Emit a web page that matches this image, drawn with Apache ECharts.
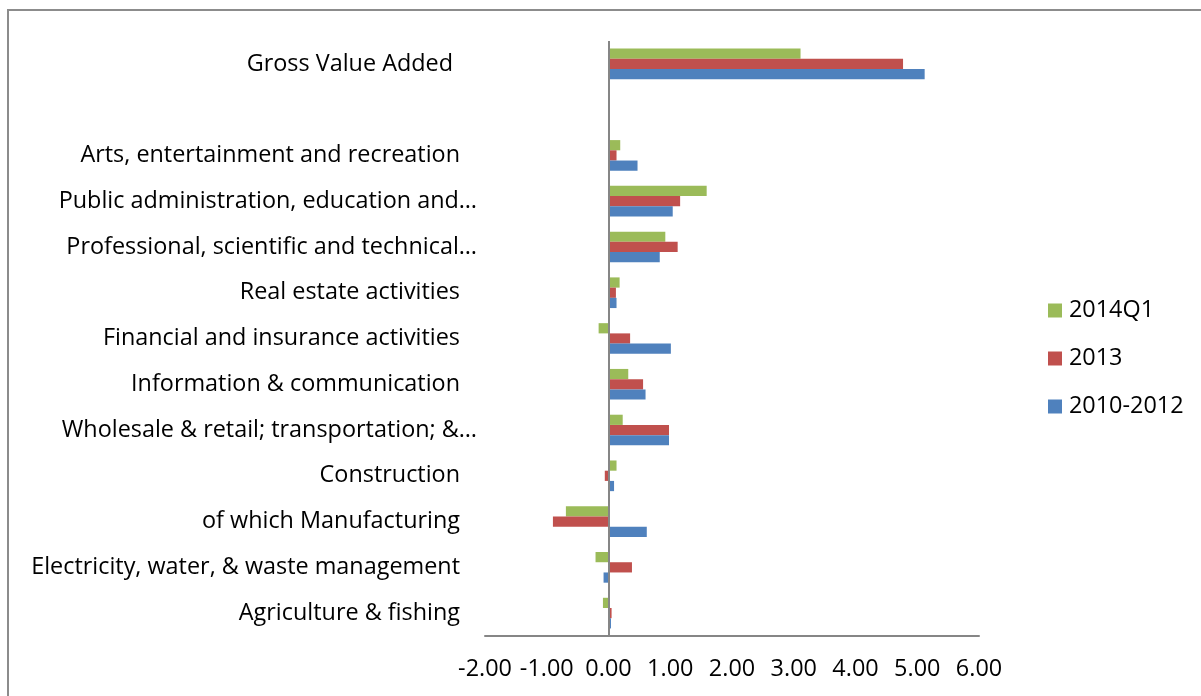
<!DOCTYPE html>
<html>
<head>
<meta charset="utf-8">
<script src="https://cdn.jsdelivr.net/npm/echarts@6/dist/echarts.min.js"></script>
<style>
  html, body { margin: 0; padding: 0; background: #fff; }
  #chart { width: 1201px; height: 696px; }
</style>
</head>
<body>
<div id="chart"></div>
<script>
// Sector categories, bottom to top (blank slot separates the total)
const categories = [
  'Agriculture & fishing',
  'Electricity, water, & waste management',
  'of which Manufacturing',
  'Construction',
  'Wholesale & retail; transportation; &…',
  'Information & communication',
  'Financial and insurance activities',
  'Real estate activities',
  'Professional, scientific and technical…',
  'Public administration, education and…',
  'Arts, entertainment and recreation',
  '',
  'Gross Value Added'
];

const legendOrder = ['2014Q1', '2013', '2010-2012'];

const values2014Q1    = [-0.09, -0.21, -0.69, 0.13, 0.23, 0.32, -0.16, 0.18, 0.92, 1.59, 0.19, null, 3.11];
const values2013      = [0.05, 0.38, -0.90, -0.06, 0.98, 0.56, 0.35, 0.12, 1.12, 1.16, 0.13, null, 4.77];
const values2010_2012 = [0.04, -0.08, 0.62, 0.09, 0.98, 0.60, 1.01, 0.13, 0.83, 1.04, 0.47, null, 5.12];

const xTicks = { min: -2, max: 6, interval: 1 };

const colors = { '2010-2012': '#4f81bd', '2013': '#c0504d', '2014Q1': '#9bbb59' };
const FONT = 'Open Sans';
const FS = 23.4;

const chart = echarts.init(document.getElementById('chart'), null, { renderer: 'canvas' });

function barSeries(name, data, withZeroLine) {
  const s = {
    name: name,
    type: 'bar',
    data: data,
    barGap: '0%',
    barCategoryGap: '33%',
    itemStyle: { color: colors[name] },
    emphasis: { disabled: true },
    animation: false
  };
  if (withZeroLine) {
    s.markLine = {
      silent: true,
      symbol: 'none',
      label: { show: false },
      lineStyle: { color: '#868686', width: 2, type: 'solid' },
      data: [{ xAxis: 0 }],
      animation: false
    };
  }
  return s;
}

chart.setOption({
  backgroundColor: '#fff',
  textStyle: { fontFamily: FONT },
  graphic: [{
    type: 'rect',
    shape: { x: 8, y: 10, width: 1300, height: 800 },
    style: { fill: 'none', stroke: '#8c8c8c', lineWidth: 2 },
    silent: true
  }],
  grid: { left: 485, right: 222, top: 41, bottom: 60, containLabel: false },
  legend: {
    orient: 'vertical',
    left: 1043,
    top: 294,
    itemGap: 25,
    itemWidth: 14,
    itemHeight: 14,
    icon: 'rect',
    data: legendOrder,
    textStyle: { fontFamily: FONT, fontSize: FS, color: '#000', padding: [0, 0, 0, 2] }
  },
  xAxis: {
    type: 'value',
    min: xTicks.min,
    max: xTicks.max,
    interval: xTicks.interval,
    axisLine: { show: true, onZero: false, lineStyle: { color: '#868686', width: 2 } },
    axisTick: { show: false },
    splitLine: { show: false },
    axisLabel: {
      color: '#000',
      fontFamily: FONT,
      fontSize: FS,
      margin: 22,
      hideOverlap: false,
      formatter: v => v.toFixed(2)
    }
  },
  yAxis: {
    type: 'category',
    data: categories,
    axisLine: { show: false, onZero: false },
    axisTick: { show: false },
    axisLabel: {
      color: '#000',
      fontFamily: FONT,
      fontSize: FS,
      margin: 8,
      formatter: v => {
        if (v.endsWith('…')) return '{e|' + v + '}';
        if (v === 'Gross Value Added') return '{g|' + v + '}';
        return '{p|' + v + '}';
      },
      rich: {
        e: { fontFamily: FONT, fontSize: FS, color: '#000' },
        p: { fontFamily: FONT, fontSize: FS, color: '#000', padding: [0, 17, 0, 0] },
        g: { fontFamily: FONT, fontSize: FS, color: '#000', padding: [0, 24, 0, 0] }
      }
    }
  },
  series: [
    barSeries('2014Q1', values2014Q1, true),
    barSeries('2013', values2013, false),
    barSeries('2010-2012', values2010_2012, false)
  ]
});
</script>
</body>
</html>
